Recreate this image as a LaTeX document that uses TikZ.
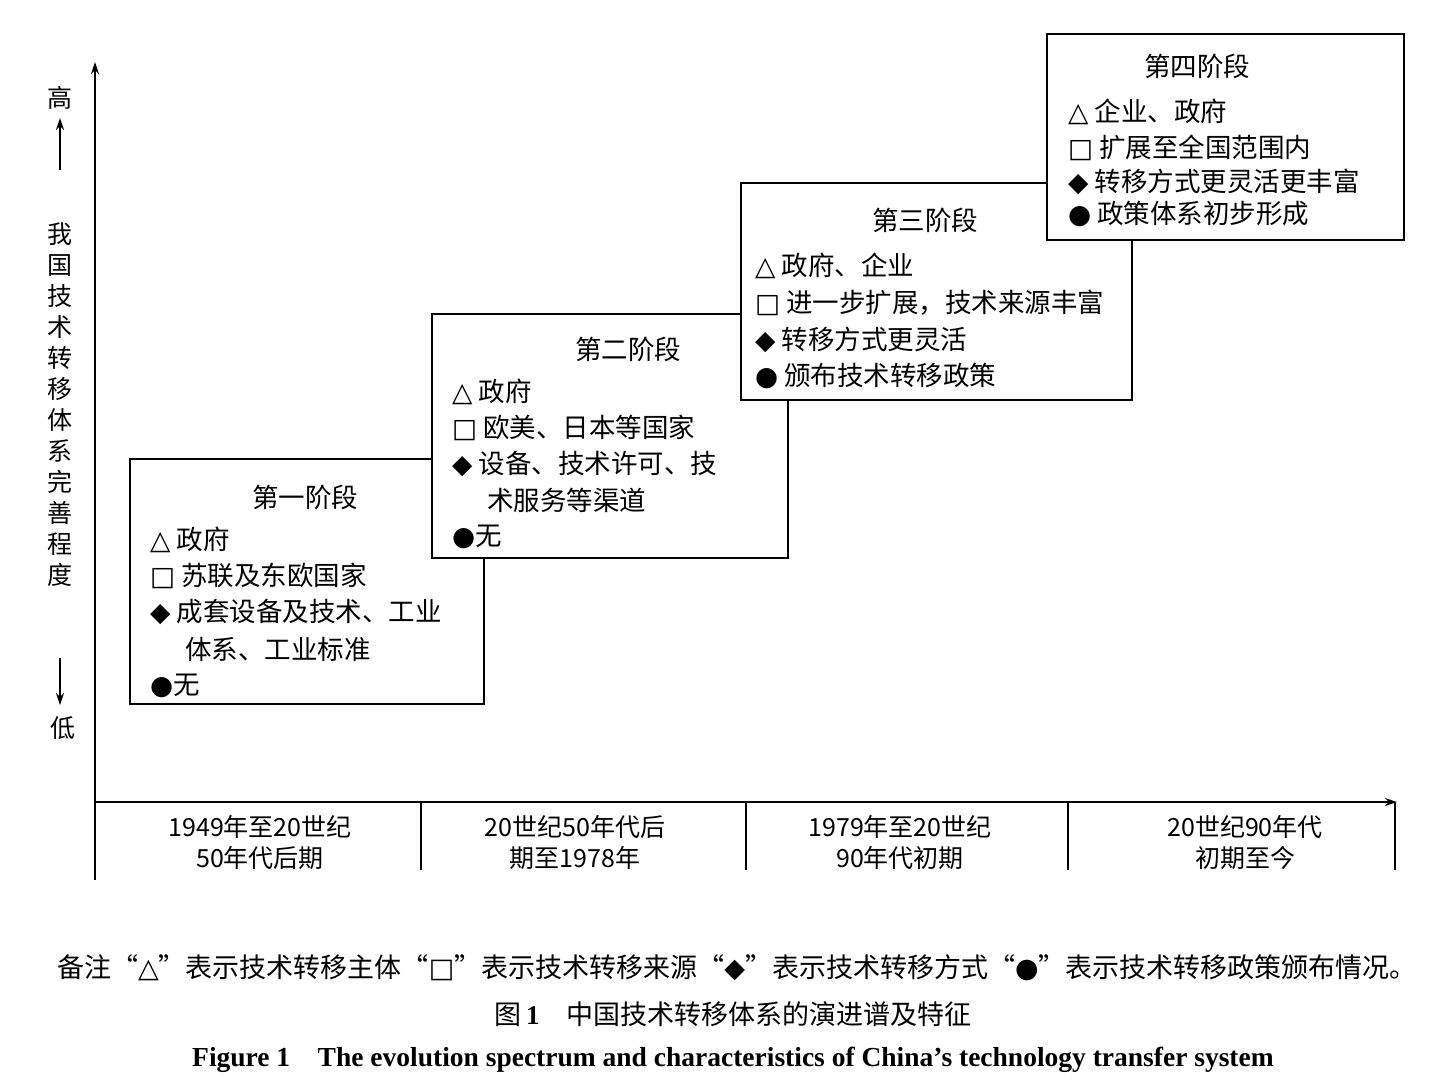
\documentclass[tikz,border=0pt]{standalone}
\usepackage{fontspec}
\setmainfont{Liberation Serif}
\newfontfamily\cjk{Noto Sans CJK SC}
\newfontfamily\sym{DejaVu Sans}
\usetikzlibrary{arrows.meta}
\begin{document}
\begin{tikzpicture}[x=1pt,y=-1pt,
  stagebox/.style={draw,line width=1.3pt,fill=white},
  txt/.style={font=\cjk\fontsize{26.5}{30}\selectfont,anchor=west,inner sep=0},
  ttl/.style={font=\cjk\fontsize{26.5}{30}\selectfont,inner sep=0},
  ax/.style={line width=1.3pt},
  arr/.style={-{Stealth[length=12pt,width=8pt]}},
  lab/.style={font=\cjk\fontsize{25}{31}\selectfont,align=center,inner sep=0},
  captxt/.style={font=\cjk\fontsize{27}{30}\selectfont,inner sep=0}]
\useasboundingbox (0,0) rectangle (1449,1080);
% axes
\draw[ax,arr] (95,880) -- (95,62);
\draw[ax,arr] (95,802) -- (1397,802);
\foreach \x in {421,746,1068,1395} \draw[ax] (\x,802) -- (\x,870);
% axis labels
\node[lab] (hi) at (60,98) {高};
\draw[ax,arr] (60,170) -- (60,118);
\node[lab] (ax) at (60,405) {我\\国\\技\\术\\转\\移\\体\\系\\完\\善\\程\\度};
\draw[ax,arr] (60,658) -- (60,705);
\node[lab] (lo) at (63,728) {低};
% period labels
\node[lab] (p1) at (260,842) {1949年至20世纪\\50年代后期};
\node[lab] (p2) at (575,842) {20世纪50年代后\\期至1978年};
\node[lab] (p3) at (900,842) {1979年至20世纪\\90年代初期};
\node[lab] (p4) at (1245,842) {20世纪90年代\\初期至今};
% stage 1
\draw[stagebox] (130,459) rectangle (484,704);
\node[ttl] (t1) at (305,497) {第一阶段};
\node[txt] at (150,540) {{\sym △} 政府};
\node[txt] at (150,576) {{\sym □} 苏联及东欧国家};
\node[txt] at (150,612) {{\sym ◆} 成套设备及技术、工业};
\node[txt] at (185,649) {体系、工业标准};
\node[txt] at (150,686) {{\sym ●}无};
% stage 2
\draw[stagebox] (432,314) rectangle (788,558);
\node[ttl] (t2) at (628,349) {第二阶段};
\node[txt] at (452,392) {{\sym △} 政府};
\node[txt] at (452,428) {{\sym □} 欧美、日本等国家};
\node[txt] at (452,464) {{\sym ◆} 设备、技术许可、技};
\node[txt] at (487,500) {术服务等渠道};
\node[txt] at (452,537) {{\sym ●}无};
% stage 3
\draw[stagebox] (741,183) rectangle (1132,400);
\node[ttl] (t3) at (925,220) {第三阶段};
\node[txt] at (755,266) {{\sym △} 政府、企业};
\node[txt] at (755,303) {{\sym □} 进一步扩展，技术来源丰富};
\node[txt] at (755,340) {{\sym ◆} 转移方式更灵活};
\node[txt] at (755,376) {{\sym ●} 颁布技术转移政策};
% stage 4
\draw[stagebox] (1047,34) rectangle (1404,240);
\node[ttl] (t4) at (1197,66) {第四阶段};
\node[txt] at (1068,112) {{\sym △} 企业、政府};
\node[txt] at (1068,148) {{\sym □} 扩展至全国范围内};
\node[txt] at (1068,182) {{\sym ◆} 转移方式更灵活更丰富};
\node[txt] at (1068,214) {{\sym ●} 政策体系初步形成};
% captions
\node[captxt] (c1) at (737,968) {备注“{\sym △}”表示技术转移主体“{\sym □}”表示技术转移来源“{\sym ◆}”表示技术转移方式“{\sym ●}”表示技术转移政策颁布情况。};
\node[captxt] (c2) at (733,1014) {图\,\textbf{\rmfamily 1}\quad 中国技术转移体系的演进谱及特征};
\node[inner sep=0,font=\rmfamily\bfseries\fontsize{27.5}{30}\selectfont] (c3) at (733,1060) {Figure 1\quad The evolution spectrum and characteristics of China’s technology transfer system};
\end{tikzpicture}
\end{document}
